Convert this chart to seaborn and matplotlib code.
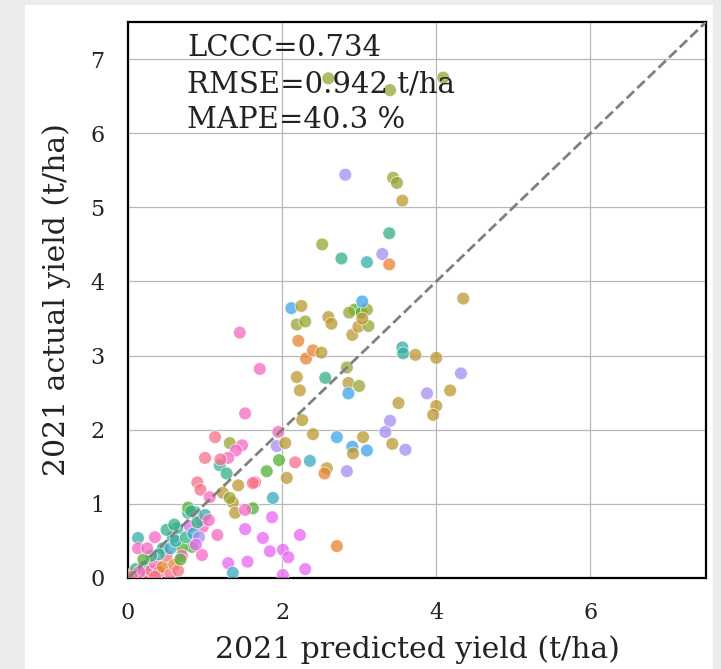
import numpy as np
import pandas as pd
import matplotlib
matplotlib.use("Agg")
import matplotlib.pyplot as plt
import seaborn as sns
from matplotlib.patches import Rectangle

# ---------------- data ----------------
predicted = [
    2.60, 3.40, 4.09, 2.82, 3.44, 3.49, 3.56, 2.52, 2.77, 3.10, 3.39, 3.30, 3.39,
    4.35, 2.12, 2.25, 2.19, 2.30, 2.21, 2.31, 2.40, 2.51, 2.60, 2.64,
    2.94, 3.03, 3.10, 3.04, 2.91, 2.99, 3.12, 3.04, 2.87,
    2.56, 2.19, 2.23, 2.84, 2.86, 3.00, 2.86,
    3.56, 3.57, 3.73, 4.00, 4.32, 4.18, 3.88, 3.51, 4.00, 3.96, 3.40, 3.34,
    1.45, 1.71, 1.52,
    2.26, 2.40, 2.71, 3.05, 2.91, 3.10, 2.92, 3.43, 3.60,
    2.58, 2.55, 2.84, 2.36, 2.17, 1.96, 2.06, 1.93, 2.04, 1.95,
    1.80, 1.65, 1.88, 1.87, 1.62, 1.52, 1.75, 2.23, 2.71,
    1.84, 2.01, 2.08, 1.55, 1.30, 1.36, 2.01, 2.30,
    1.13, 1.32, 1.48, 1.40, 1.00, 1.30, 1.19, 1.28, 0.90, 0.94, 1.06, 1.43, 1.36,
    1.39, 1.52, 1.62, 1.23, 1.32, 1.20,
    0.78, 0.87, 0.97, 1.16, 0.95, 0.64, 0.58, 0.83, 0.96, 0.35, 0.13, 0.13,
    0.05, 0.10, 0.20, 0.25, 0.30, 0.35, 0.40, 0.45, 0.50, 0.55, 0.60, 0.65, 0.70,
    0.45, 0.40, 0.55, 0.62, 0.75, 0.80, 0.85, 0.90, 0.70, 0.30, 0.20, 0.50, 0.25,
    0.15, 0.35, 0.68, 0.78, 0.82, 0.60, 1.00, 1.05, 0.92, 0.88, 0.05,
]
actual = [
    6.74, 6.58, 6.75, 5.44, 5.40, 5.33, 5.09, 4.50, 4.31, 4.26, 4.65, 4.37, 4.23,
    3.77, 3.64, 3.67, 3.42, 3.46, 3.20, 2.96, 3.07, 3.04, 3.52, 3.43,
    3.62, 3.58, 3.62, 3.73, 3.28, 3.39, 3.40, 3.50, 3.58,
    2.70, 2.71, 2.53, 2.84, 2.63, 2.59, 2.49,
    3.11, 3.03, 3.01, 2.97, 2.76, 2.53, 2.49, 2.36, 2.32, 2.20, 2.12, 1.97,
    3.31, 2.82, 2.22,
    2.13, 1.94, 1.90, 1.90, 1.77, 1.72, 1.68, 1.81, 1.73,
    1.48, 1.41, 1.44, 1.58, 1.56, 1.59, 1.35, 1.78, 1.82, 1.97,
    1.44, 1.29, 1.08, 0.82, 0.94, 0.66, 0.54, 0.58, 0.43,
    0.36, 0.38, 0.28, 0.22, 0.20, 0.07, 0.04, 0.12,
    1.90, 1.82, 1.79, 1.72, 1.62, 1.62, 1.52, 1.41, 1.29, 1.19, 1.09, 1.25, 1.02,
    0.88, 0.92, 1.28, 1.15, 1.08, 1.60,
    0.88, 0.89, 0.69, 0.58, 0.78, 0.67, 0.55, 0.42, 0.31, 0.55, 0.54, 0.40,
    0.05, 0.12, 0.15, 0.05, 0.10, 0.20, 0.08, 0.15, 0.30, 0.05, 0.18, 0.10, 0.40,
    0.40, 0.32, 0.40, 0.50, 0.55, 0.70, 0.60, 0.75, 0.30, 0.30, 0.25, 0.65, 0.40,
    0.08, 0.02, 0.25, 0.95, 0.90, 0.72, 0.85, 0.78, 0.55, 0.45, 0.02,
]
group = list(
    "LLLPLLTLECEPO"
    "TVTLLOOOTTT"
    "GGLVTTLTL"
    "ETTLTLV"
    "CCTTPTPTTTPP"
    "KKK"
    "TTVTVVTTP"
    "TOPBRGTPTK"
    "GRBMGMMMO"
    "MMMMMBMM"
    "RLKKRKCERRKTT"
    "TKRTLR"
    "EEKKMCCGKKCK"
    "TECRRKRORRORG"
    "ECBCEMBEKEGEK"
    "KRGGEECKPMR"
)
group_order = list("ROTLGECBVPMK")   # hue levels, in palette order

lccc_text = "LCCC=0.734"
rmse_text = "RMSE=0.942 t/ha"
mape_text = "MAPE=40.3 %"
x_label = "2021 predicted yield (t/ha)"
y_label = "2021 actual yield (t/ha)"
axis_lim = [0, 7.5]
tick_vals = [0, 2, 4, 6]
ytick_vals = [0, 1, 2, 3, 4, 5, 6, 7]

df = pd.DataFrame({"predicted": predicted, "actual": actual, "group": group})

# ---------------- plot ----------------
sns.set_theme(style="whitegrid")
plt.rcParams["font.family"] = ["DejaVu Serif", "DejaVu Sans"]

fig = plt.figure(figsize=(7.21, 6.69), dpi=100, facecolor="#ececec")
W, H = 721, 669
bg = Rectangle((25 / W, 0), (713 - 25) / W, (H - 5) / H,
               transform=fig.transFigure, facecolor="white",
               edgecolor="none", zorder=-10)
fig.add_artist(bg)
ax = fig.add_axes([128 / W, (H - 578) / H, (706 - 128) / W, (578 - 22) / H])

palette = sns.color_palette("husl", len(group_order))
sns.scatterplot(data=df, x="predicted", y="actual", hue="group",
                hue_order=group_order, palette=palette, s=85, alpha=0.75,
                edgecolor="white", linewidth=0.6, legend=False, ax=ax, zorder=3)

ax.plot(axis_lim, axis_lim, ls="--", color="gray", lw=2, zorder=4)

ax.set_xlim(axis_lim)
ax.set_ylim(axis_lim)
ax.set_xticks(tick_vals)
ax.set_yticks(ytick_vals)
ax.grid(True, color="#b8b8b8", lw=0.9)
for sp in ax.spines.values():
    sp.set_color("black")
    sp.set_linewidth(1.6)
ax.tick_params(labelsize=16, colors="#222222", pad=11)
ax.set_xlabel(x_label, fontsize=21.5, color="#222222", labelpad=8)
ax.set_ylabel(y_label, fontsize=21.5, color="#222222", labelpad=14)

ax.text(0.102, 0.979, "\n".join([lccc_text, rmse_text, mape_text]),
        transform=ax.transAxes, ha="left", va="top", fontsize=21,
        color="#222222", linespacing=1.38, zorder=5)

fig.savefig("out.png", dpi=100, facecolor=fig.get_facecolor())
